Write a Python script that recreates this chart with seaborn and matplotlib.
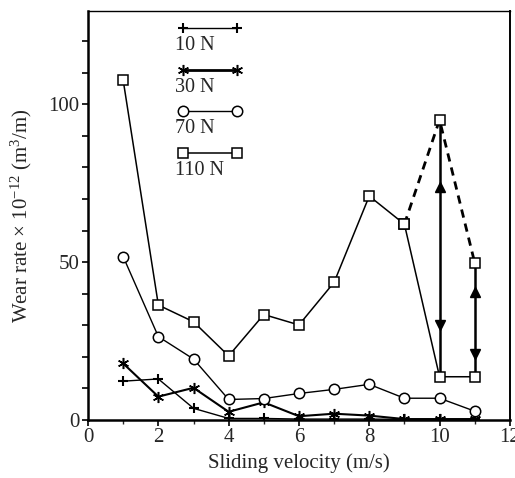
import numpy as np
import pandas as pd
import matplotlib
matplotlib.use("Agg")
import matplotlib.pyplot as plt
import seaborn as sns

# Sliding velocity (m/s)
velocity = [1, 2, 3, 4, 5, 6, 7, 8, 9, 10, 11]

# Wear rate x 1e-12 (m^3/m) at each load
wear_10N = [12.3, 13.0, 3.7, 0.5, 0.5, 0.3, 0.3, 0.3, 0.2, 0.2, 0.2]
wear_30N = [17.9, 7.4, 10.2, 2.6, 5.6, 1.2, 2.0, 1.4, 0.3, 0.3, 0.3]
wear_70N = [51.7, 26.4, 19.3, 6.5, 6.8, 8.4, 9.7, 11.3, 6.9, 6.9, 2.8]
wear_110N = [107.5, 36.4, 31.1, 20.3, 33.4, 30.1, 43.6, 70.9, 62.0, 13.7, 13.7]

# Upper (unstable) branch at 110 N
velocity_upper = [9, 10, 11]
wear_110N_upper = [62.0, 95.0, 49.8]

load_labels = ["10 N", "30 N", "70 N", "110 N"]

sns.set_theme(style="ticks")
plt.rcParams["font.family"] = ["Liberation Serif", "DejaVu Serif"]
plt.rcParams["mathtext.fontset"] = "custom"
plt.rcParams["mathtext.rm"] = "Liberation Serif"
plt.rcParams["mathtext.it"] = "Liberation Serif:italic"

fig = plt.figure(figsize=(5.15, 4.78), dpi=100)
ax = fig.add_axes([0.171, 0.1213, 0.819, 0.8557])

df = pd.DataFrame({
    "velocity": velocity,
    "10 N": wear_10N,
    "30 N": wear_30N,
    "70 N": wear_70N,
    "110 N": wear_110N,
})

star = (6, 2, 0)
styles = {
    "10 N": dict(marker="+", ms=7.5, mew=1.5, lw=1.0),
    "30 N": dict(marker=star, ms=8, mew=1.1, lw=1.5),
    "70 N": dict(marker="o", ms=7.5, mew=1.1, lw=1.0, mfc="white"),
    "110 N": dict(marker="s", ms=7.8, mew=1.1, lw=1.1, mfc="white"),
}

for name in ["10 N", "30 N", "70 N"]:
    st = styles[name]
    sns.lineplot(data=df, x="velocity", y=name, ax=ax, color="black",
                 lw=st["lw"], marker=st["marker"], markersize=st["ms"],
                 markeredgewidth=st["mew"], markeredgecolor="black",
                 markerfacecolor=st.get("mfc", "black"), zorder=3)

# Dashed upper branch for 110 N
up = pd.DataFrame({"velocity": velocity_upper, "wear": wear_110N_upper})
sns.lineplot(data=up, x="velocity", y="wear", ax=ax, color="black", lw=2.0,
             linestyle=(0, (3, 2.2)), zorder=3)

# Transition arrows between the two branches
for xv, lo, hi in [(10, wear_110N[9], wear_110N_upper[1]),
                   (11, wear_110N[10], wear_110N_upper[2])]:
    ax.plot([xv, xv], [lo, hi], color="black", lw=1.8, zorder=2)
    span = hi - lo
    ax.plot([xv], [lo + 0.74 * span], marker="^", ms=6.5, color="black", zorder=3)
    ax.plot([xv], [lo + 0.20 * span], marker="v", ms=6.5, color="black", zorder=3)

st = styles["110 N"]
sns.lineplot(data=df, x="velocity", y="110 N", ax=ax, color="black",
             lw=st["lw"], marker="s", markersize=st["ms"],
             markeredgewidth=st["mew"], markeredgecolor="black",
             markerfacecolor="white", zorder=4)
sns.lineplot(data=up, x="velocity", y="wear", ax=ax, color="black", lw=0,
             marker="s", markersize=st["ms"], markeredgewidth=st["mew"],
             markeredgecolor="black", markerfacecolor="white", zorder=4)

# Legend: sample line on top, label beneath
line_y0 = 0.958
step = 0.1015
for i, name in enumerate(load_labels):
    s = styles[name]
    y = line_y0 - i * step
    ax.plot([0.225, 0.353], [y, y], transform=ax.transAxes, color="black",
            lw=s["lw"] + (0.5 if name == "30 N" else 0), marker=s["marker"],
            ms=s["ms"], mew=s["mew"], mec="black",
            mfc=s.get("mfc", "black"), clip_on=False, zorder=5)
    ax.text(0.205, y - 0.043, name, transform=ax.transAxes, fontsize=14.5,
            ha="left", va="center")

ax.set_xlim(0, 12)
ax.set_ylim(0, 129.5)
ax.set_xticks(np.arange(0, 13, 2))
ax.set_xticks(np.arange(0, 13, 1), minor=True)
ax.set_yticks(np.arange(0, 130, 10))
ax.set_yticklabels([str(v) if v % 50 == 0 else "" for v in range(0, 130, 10)])
ax.tick_params(axis="both", which="major", labelsize=15, length=4, width=1.2,
               direction="out", color="black", pad=2)
ax.tick_params(axis="x", which="minor", length=3, width=1.0, direction="out")

for side, lw in [("left", 1.8), ("bottom", 1.8), ("right", 1.4), ("top", 1.0)]:
    ax.spines[side].set_visible(True)
    ax.spines[side].set_linewidth(lw)
    ax.spines[side].set_color("black")

ax.set_xlabel("Sliding velocity (m/s)", fontsize=15, labelpad=4)
ax.set_ylabel("Wear rate \u00d7 10$^{-12}$ (m$^3$/m)", fontsize=15)
ax.yaxis.set_label_coords(-0.128, 0.5)
ax.grid(False)

fig.savefig("out.png", dpi=100)
